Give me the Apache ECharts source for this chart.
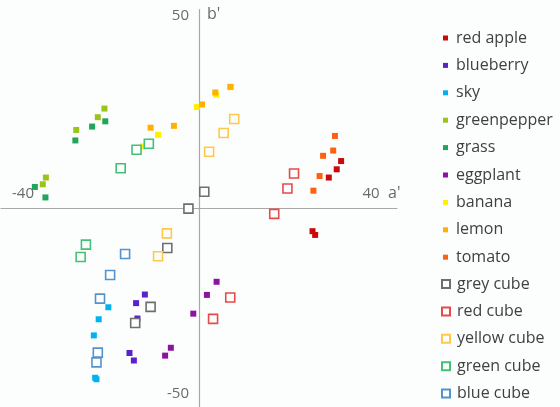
<!DOCTYPE html>
<html>
<head>
<meta charset="utf-8">
<script src="https://cdn.jsdelivr.net/npm/echarts@6/dist/echarts.min.js"></script>
<style>
  html, body { margin: 0; padding: 0; background: #fcfefe; }
  #chart { width: 560px; height: 407px; }
</style>
</head>
<body>
<div id="chart"></div>
<script>
// a'b' chromaticity samples: [a', b'] pairs per object
const redApple    = [[32.3, 12.6], [31.3, 10.4], [29.5, 8.2], [25.8, -6.1], [26.4, -7.1]];
const blueberry   = [[-12.3, -23.0], [-14.3, -25.3], [-14.0, -29.4], [-15.8, -38.6], [-14.8, -40.6]];
const sky         = [[-20.6, -26.4], [-22.8, -29.6], [-23.9, -33.9], [-23.6, -45.2], [-23.3, -45.6]];
const greenpepper = [[-21.5, 26.6], [-23.0, 24.3], [-27.9, 20.9], [-34.8, 8.2], [-35.5, 6.4]];
const grass       = [[-21.3, 23.2], [-24.3, 21.8], [-28.1, 18.1], [-37.3, 5.7], [-34.9, 2.9]];
const eggplant    = [[4.0, -19.6], [1.8, -23.1], [-1.3, -28.1], [-6.4, -37.2], [-7.7, -39.3]];
const banana      = [[-0.5, 27.0], [3.9, 30.3], [7.3, 32.3], [-9.3, 19.6], [-12.7, 16.5]];
const lemon       = [[-11.0, 21.5], [-5.7, 22.0], [0.7, 27.7], [3.7, 30.9], [7.1, 32.4]];
const tomato      = [[30.9, 19.3], [30.5, 15.4], [28.2, 14.0], [27.4, 8.6], [26.0, 4.7]];
const greyCube    = [[-2.4, -0.1], [1.2, 4.4], [-7.2, -10.6], [-11.0, -26.3], [-14.5, -30.6]];
const redCube     = [[21.6, 9.3], [20.1, 5.3], [17.1, -1.5], [7.1, -23.8], [3.2, -29.5]];
const yellowCube  = [[8.0, 23.8], [5.6, 20.1], [2.3, 15.1], [-7.3, -6.7], [-9.3, -12.8]];
const greenCube   = [[-11.4, 17.2], [-14.2, 15.6], [-17.8, 10.7], [-25.7, -9.7], [-26.9, -13.0]];
const blueCube    = [[-16.8, -12.2], [-20.2, -17.8], [-22.5, -24.1], [-23.0, -38.5], [-23.3, -41.1]];

const objectNames = ['red apple', 'blueberry', 'sky', 'greenpepper', 'grass', 'eggplant', 'banana', 'lemon', 'tomato'];
const objectData  = [redApple, blueberry, sky, greenpepper, grass, eggplant, banana, lemon, tomato];
const objectColors = ['#c80a0a', '#5a22cc', '#00b2f0', '#9cc31a', '#22a55a', '#8e12a2', '#fff000', '#ffb000', '#ff6010'];

const cubeNames  = ['grey cube', 'red cube', 'yellow cube', 'green cube', 'blue cube'];
const cubeData   = [greyCube, redCube, yellowCube, greenCube, blueCube];
const cubeColors = ['#6e6e6e', '#e64a4a', '#ffc84a', '#44c077', '#5592cc'];

// axis annotations: value, text
const xTickLabels = [[-40, '-40'], [40, '40']];
const yTickLabels = [[50, '50'], [-50, '-50']];
const xName = "a'";
const yName = "b'";

const FONT = 'Open Sans';
const bg = '#fcfefe';

const series = [];
objectNames.forEach((n, i) => series.push({
  name: n, type: 'scatter', data: objectData[i],
  symbol: 'rect', symbolSize: 6,
  itemStyle: { color: objectColors[i], opacity: 1 },
  emphasis: { disabled: true }
}));
cubeNames.forEach((n, i) => series.push({
  name: n, type: 'scatter', data: cubeData[i],
  symbol: 'rect', symbolSize: 9,
  itemStyle: { color: bg, borderColor: cubeColors[i], borderWidth: 1.6, opacity: 1 },
  emphasis: { disabled: true }
}));

const legendText = { fontFamily: FONT, fontSize: 16, color: '#404040', lineHeight: 18 };

const chart = echarts.init(document.getElementById('chart'), null, { renderer: 'canvas' });
chart.setOption({
  backgroundColor: bg,
  animation: false,
  grid: { left: 1, width: 396, top: 9.6, height: 402.8 },
  xAxis: {
    type: 'value', min: -45, max: 45,
    axisLine: { onZero: true, lineStyle: { color: '#a8a8a8', width: 1.2 } },
    axisTick: { show: false }, axisLabel: { show: false }, splitLine: { show: false }
  },
  yAxis: {
    type: 'value', min: -53, max: 53,
    axisLine: { onZero: true, lineStyle: { color: '#a8a8a8', width: 1.2 } },
    axisTick: { show: false }, axisLabel: { show: false }, splitLine: { show: false }
  },
  legend: [
    {
      data: objectNames, orient: 'vertical', left: 438, top: 24, height: 260,
      icon: 'rect', itemWidth: 5, itemHeight: 5, itemGap: 9.4,
      textStyle: Object.assign({ padding: [0, 0, 0, 3] }, legendText),
      selectedMode: false
    },
    {
      data: cubeNames, orient: 'vertical', left: 436, top: 270, height: 150,
      icon: 'rect', itemWidth: 8, itemHeight: 8, itemGap: 9.4,
      textStyle: Object.assign({ padding: [0, 0, 0, 2] }, legendText),
      selectedMode: false
    }
  ],
  series: series
});

// axis end labels placed at their values on the axes
const labelStyle = { fontFamily: FONT, fontSize: 15, fill: '#6a6a6a' };
const graphics = [];
xTickLabels.forEach(([v, t]) => {
  const p = chart.convertToPixel({ gridIndex: 0 }, [v, 0]);
  graphics.push({ type: 'text', x: p[0] - (v > 0 ? 4 : 0), y: p[1] - 7,
    style: Object.assign({ text: t, align: 'center', verticalAlign: 'bottom' }, labelStyle) });
});
yTickLabels.forEach(([v, t]) => {
  const p = chart.convertToPixel({ gridIndex: 0 }, [0, v]);
  graphics.push({ type: 'text', x: p[0] - 10, y: p[1] + (v > 0 ? 2 : 5),
    style: Object.assign({ text: t, align: 'right', verticalAlign: 'bottom' }, labelStyle) });
});
{
  const p = chart.convertToPixel({ gridIndex: 0 }, [40, 0]);
  graphics.push({ type: 'text', x: p[0] + 13, y: p[1] - 7,
    style: Object.assign({ text: xName, align: 'left', verticalAlign: 'bottom' }, labelStyle, { fontSize: 16 }) });
  const q = chart.convertToPixel({ gridIndex: 0 }, [0, 50]);
  graphics.push({ type: 'text', x: q[0] + 8, y: q[1] + 2,
    style: Object.assign({ text: yName, align: 'left', verticalAlign: 'bottom' }, labelStyle, { fontSize: 16 }) });
}
chart.setOption({ graphic: graphics });
</script>
</body>
</html>
